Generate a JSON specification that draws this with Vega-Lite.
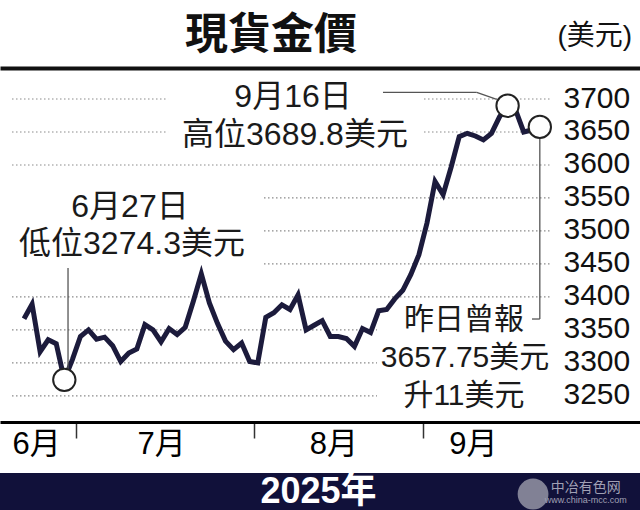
{
  "$schema": "https://vega.github.io/schema/vega-lite/v6.json",
  "width": 640,
  "height": 442,
  "autosize": {"type": "none"},
  "padding": {"left": 0, "top": 68, "right": 0, "bottom": 0},
  "background": "white",
  "config": {"view": {"stroke": null}},
  "title": {"text": "現貨金價", "anchor": "start", "frame": "group", "dx": 185, "offset": -36, "font": "Noto Sans CJK TC", "fontSize": 43, "fontWeight": "bold", "color": "#111111"},
  "datasets": {
    "price": [
      {"d": "2025-06-20", "i": 0, "p": 3367}, {"d": "2025-06-23", "i": 1, "p": 3389}, {"d": "2025-06-24", "i": 2, "p": 3317},
      {"d": "2025-06-25", "i": 3, "p": 3335}, {"d": "2025-06-26", "i": 4, "p": 3329}, {"d": "2025-06-27", "i": 5, "p": 3274.3},
      {"d": "2025-06-30", "i": 6, "p": 3305}, {"d": "2025-07-01", "i": 7, "p": 3340}, {"d": "2025-07-02", "i": 8, "p": 3350},
      {"d": "2025-07-03", "i": 9, "p": 3336}, {"d": "2025-07-07", "i": 10, "p": 3339}, {"d": "2025-07-08", "i": 11, "p": 3326},
      {"d": "2025-07-09", "i": 12, "p": 3302}, {"d": "2025-07-10", "i": 13, "p": 3315}, {"d": "2025-07-11", "i": 14, "p": 3321},
      {"d": "2025-07-14", "i": 15, "p": 3358}, {"d": "2025-07-15", "i": 16, "p": 3350}, {"d": "2025-07-16", "i": 17, "p": 3332},
      {"d": "2025-07-17", "i": 18, "p": 3352}, {"d": "2025-07-18", "i": 19, "p": 3343}, {"d": "2025-07-21", "i": 20, "p": 3354},
      {"d": "2025-07-22", "i": 21, "p": 3393}, {"d": "2025-07-23", "i": 22, "p": 3435}, {"d": "2025-07-24", "i": 23, "p": 3391},
      {"d": "2025-07-25", "i": 24, "p": 3360}, {"d": "2025-07-28", "i": 25, "p": 3333}, {"d": "2025-07-29", "i": 26, "p": 3320},
      {"d": "2025-07-30", "i": 27, "p": 3330}, {"d": "2025-07-31", "i": 28, "p": 3302}, {"d": "2025-08-01", "i": 29, "p": 3300},
      {"d": "2025-08-04", "i": 30, "p": 3369}, {"d": "2025-08-05", "i": 31, "p": 3376}, {"d": "2025-08-06", "i": 32, "p": 3388},
      {"d": "2025-08-07", "i": 33, "p": 3381}, {"d": "2025-08-08", "i": 34, "p": 3403}, {"d": "2025-08-11", "i": 35, "p": 3350},
      {"d": "2025-08-12", "i": 36, "p": 3357}, {"d": "2025-08-13", "i": 37, "p": 3364}, {"d": "2025-08-14", "i": 38, "p": 3340},
      {"d": "2025-08-15", "i": 39, "p": 3340}, {"d": "2025-08-18", "i": 40, "p": 3337}, {"d": "2025-08-19", "i": 41, "p": 3325},
      {"d": "2025-08-20", "i": 42, "p": 3352}, {"d": "2025-08-21", "i": 43, "p": 3346}, {"d": "2025-08-22", "i": 44, "p": 3379},
      {"d": "2025-08-25", "i": 45, "p": 3381}, {"d": "2025-08-26", "i": 46, "p": 3397}, {"d": "2025-08-27", "i": 47, "p": 3410},
      {"d": "2025-08-28", "i": 48, "p": 3434}, {"d": "2025-08-29", "i": 49, "p": 3464}, {"d": "2025-09-02", "i": 50, "p": 3512},
      {"d": "2025-09-03", "i": 51, "p": 3575}, {"d": "2025-09-04", "i": 52, "p": 3555}, {"d": "2025-09-05", "i": 53, "p": 3597},
      {"d": "2025-09-08", "i": 54, "p": 3643}, {"d": "2025-09-09", "i": 55, "p": 3648}, {"d": "2025-09-10", "i": 56, "p": 3644},
      {"d": "2025-09-11", "i": 57, "p": 3638}, {"d": "2025-09-12", "i": 58, "p": 3648}, {"d": "2025-09-15", "i": 59, "p": 3673},
      {"d": "2025-09-16", "i": 60, "p": 3689.8}, {"d": "2025-09-17", "i": 61, "p": 3683}, {"d": "2025-09-18", "i": 62, "p": 3650},
      {"d": "2025-09-19", "i": 63, "p": 3653}, {"d": "2025-09-22", "i": 64, "p": 3657.75}
    ],
    "grid": [{"v": 3250}, {"v": 3300}, {"v": 3350}, {"v": 3400}, {"v": 3450}, {"v": 3500}, {"v": 3550}, {"v": 3600}, {"v": 3650}, {"v": 3700}],
    "boxes": [
      {"x": 17.87, "x2": 49.38, "y": 3722.7, "y2": 3622.7},
      {"x": -2.98, "x2": 29.65, "y": 3569.6, "y2": 3440.8},
      {"x": 43.8, "x2": 65.51, "y": 3395.3, "y2": 3228.6}
    ],
    "leaders": [
      {"x": 44.54, "x2": 56.17, "y": 3710.2, "y2": 3710.2},
      {"x": 56.17, "x2": 58.65, "y": 3710.2, "y2": 3699.6},
      {"x": 5.46, "x2": 5.46, "y": 3443.8, "y2": 3274.3},
      {"x": 64, "x2": 64, "y": 3657.75, "y2": 3366.5},
      {"x": 63.03, "x2": 64, "y": 3366.5, "y2": 3366.5}
    ],
    "notes": [
      {"t": "9月16日", "i": 33.38, "p": 3687.9, "g": "big"},
      {"t": "高位3689.8美元", "i": 33.62, "p": 3630.3, "g": "big"},
      {"t": "6月27日", "i": 13.15, "p": 3521.6, "g": "big"},
      {"t": "低位3274.3美元", "i": 13.4, "p": 3465, "g": "big"},
      {"t": "昨日曾報", "i": 54.59, "p": 3351.4, "g": "small"},
      {"t": "3657.75美元", "i": 54.72, "p": 3293.3, "g": "small"},
      {"t": "升11美元", "i": 54.59, "p": 3236.2, "g": "small"}
    ]
  },
  "resolve": {"axis": {"x": "independent"}},
  "layer": [
    {
      "data": {"name": "grid"},
      "mark": {"type": "rule", "stroke": "#8a8a8a", "strokeWidth": 1.2, "strokeDash": [1.5, 2.5]},
      "encoding": {
        "x": {"datum": -1.49, "type": "quantitative", "scale": {"domain": [-2.98, 76.43], "nice": false, "zero": false},
              "axis": {"orient": "top", "domainWidth": 4, "domainColor": "#111111", "ticks": false, "labels": false, "grid": false, "title": null}},
        "x2": {"datum": 65.26},
        "y": {"field": "v", "type": "quantitative", "scale": {"domain": [3077, 3747], "nice": false, "zero": false},
              "axis": {"orient": "right", "offset": -77, "values": [3250, 3300, 3350, 3400, 3450, 3500, 3550, 3600, 3650, 3700],
                       "format": "d", "domain": false, "ticks": false, "grid": false, "labelFontSize": 30, "labelFont": "Liberation Sans",
                       "labelColor": "#111111", "labelPadding": 0, "labelAlign": "left", "labelBaseline": "alphabetic", "labelOffset": 8,
                       "labelOverlap": false, "title": "(美元)", "titleAngle": 0, "titleAlign": "left", "titleBaseline": "alphabetic",
                       "titleX": -6, "titleY": -24, "titleFont": "Liberation Sans, Noto Sans CJK TC", "titleFontSize": 28,
                       "titleFontWeight": "normal", "titleColor": "#111111"}}
      }
    },
    {
      "data": {"name": "boxes"},
      "mark": {"type": "rect", "fill": "white"},
      "encoding": {
        "x": {"field": "x", "type": "quantitative", "axis": null},
        "x2": {"field": "x2"},
        "y": {"field": "y", "type": "quantitative"},
        "y2": {"field": "y2"}
      }
    },
    {
      "data": {"name": "price"},
      "mark": {"type": "line", "stroke": "#1c1b3c", "strokeWidth": 5, "strokeJoin": "miter", "strokeMiterLimit": 4},
      "encoding": {
        "x": {"field": "i", "type": "quantitative",
              "axis": {"orient": "bottom", "offset": -88, "values": [1.5, 6.5, 17, 28.5, 38.4, 49.5, 55.7],
                       "domainColor": "#000000", "domainWidth": 3, "ticks": true, "tickSize": 16, "tickWidth": 1.5, "tickColor": "#333333",
                       "tickOpacity": {"condition": {"test": "datum.value == 6.5 || datum.value == 28.5 || datum.value == 49.5", "value": 1}, "value": 0},
                       "labelExpr": "datum.value == 1.5 ? '6月' : datum.value == 17 ? '7月' : datum.value == 38.4 ? '8月' : datum.value == 55.7 ? '9月' : ''",
                       "labelFontSize": 31, "labelFont": "Liberation Sans, Noto Sans CJK TC", "labelColor": "#000000",
                       "labelBaseline": "alphabetic", "labelPadding": 15, "labelAlign": "center", "labelOverlap": false, "grid": false, "title": null}},
        "y": {"field": "p", "type": "quantitative"}
      }
    },
    {
      "data": {"name": "leaders"},
      "mark": {"type": "rule", "stroke": "#555555", "strokeWidth": 1.3},
      "encoding": {
        "x": {"field": "x", "type": "quantitative", "axis": null},
        "x2": {"field": "x2"},
        "y": {"field": "y", "type": "quantitative"},
        "y2": {"field": "y2"}
      }
    },
    {
      "data": {"name": "price"},
      "transform": [{"filter": "datum.i == 5 || datum.i == 60 || datum.i == 64"}],
      "mark": {"type": "point", "shape": "circle", "filled": false, "fill": "white", "fillOpacity": 1, "stroke": "#222222", "strokeWidth": 2, "size": 500, "opacity": 1},
      "encoding": {
        "x": {"field": "i", "type": "quantitative", "axis": null},
        "y": {"field": "p", "type": "quantitative"}
      }
    },
    {
      "data": {"name": "notes"},
      "transform": [{"filter": "datum.g == 'big'"}],
      "mark": {"type": "text", "font": "Liberation Sans, Noto Sans CJK TC", "fontSize": 32, "align": "center", "baseline": "alphabetic", "color": "#1a1a1a"},
      "encoding": {
        "x": {"field": "i", "type": "quantitative", "axis": null},
        "y": {"field": "p", "type": "quantitative"},
        "text": {"field": "t"}
      }
    },
    {
      "data": {"name": "notes"},
      "transform": [{"filter": "datum.g == 'small'"}],
      "mark": {"type": "text", "font": "Liberation Sans, Noto Sans CJK TC", "fontSize": 30, "align": "center", "baseline": "alphabetic", "color": "#1a1a1a"},
      "encoding": {
        "x": {"field": "i", "type": "quantitative", "axis": null},
        "y": {"field": "p", "type": "quantitative"},
        "text": {"field": "t"}
      }
    },
    {
      "data": {"values": [{}]},
      "mark": {"type": "rect", "fill": "#11113a"},
      "encoding": {
        "x": {"datum": -2.98, "type": "quantitative", "axis": null},
        "x2": {"datum": 76.43},
        "y": {"datum": 3077, "type": "quantitative"},
        "y2": {"datum": 3133.1}
      }
    },
    {
      "data": {"values": [{}]},
      "mark": {"type": "text", "text": "2025年", "font": "Liberation Sans, Noto Sans CJK TC", "fontSize": 36, "fontWeight": "bold", "align": "center", "baseline": "middle", "color": "white"},
      "encoding": {
        "x": {"datum": 36.54, "type": "quantitative", "axis": null},
        "y": {"datum": 3104, "type": "quantitative"}
      }
    },
    {
      "data": {"values": [{}]},
      "mark": {"type": "point", "shape": "circle", "filled": true, "color": "#8e8ea0", "size": 950, "opacity": 0.9},
      "encoding": {
        "x": {"datum": 63.16, "type": "quantitative", "axis": null},
        "y": {"datum": 3101.2, "type": "quantitative"}
      }
    },
    {
      "data": {"values": [{}]},
      "mark": {"type": "text", "text": "中冶有色网", "font": "Noto Sans CJK SC", "fontSize": 14, "align": "center", "baseline": "alphabetic", "color": "#a0a0b4"},
      "encoding": {
        "x": {"datum": 69.7, "type": "quantitative", "axis": null},
        "y": {"datum": 3104.3, "type": "quantitative"}
      }
    },
    {
      "data": {"values": [{}]},
      "mark": {"type": "text", "text": "www.china-mcc.com", "font": "Liberation Sans", "fontSize": 9, "align": "center", "baseline": "alphabetic", "color": "#a0a0b4"},
      "encoding": {
        "x": {"datum": 69.7, "type": "quantitative", "axis": null},
        "y": {"datum": 3087.6, "type": "quantitative"}
      }
    }
  ]
}
